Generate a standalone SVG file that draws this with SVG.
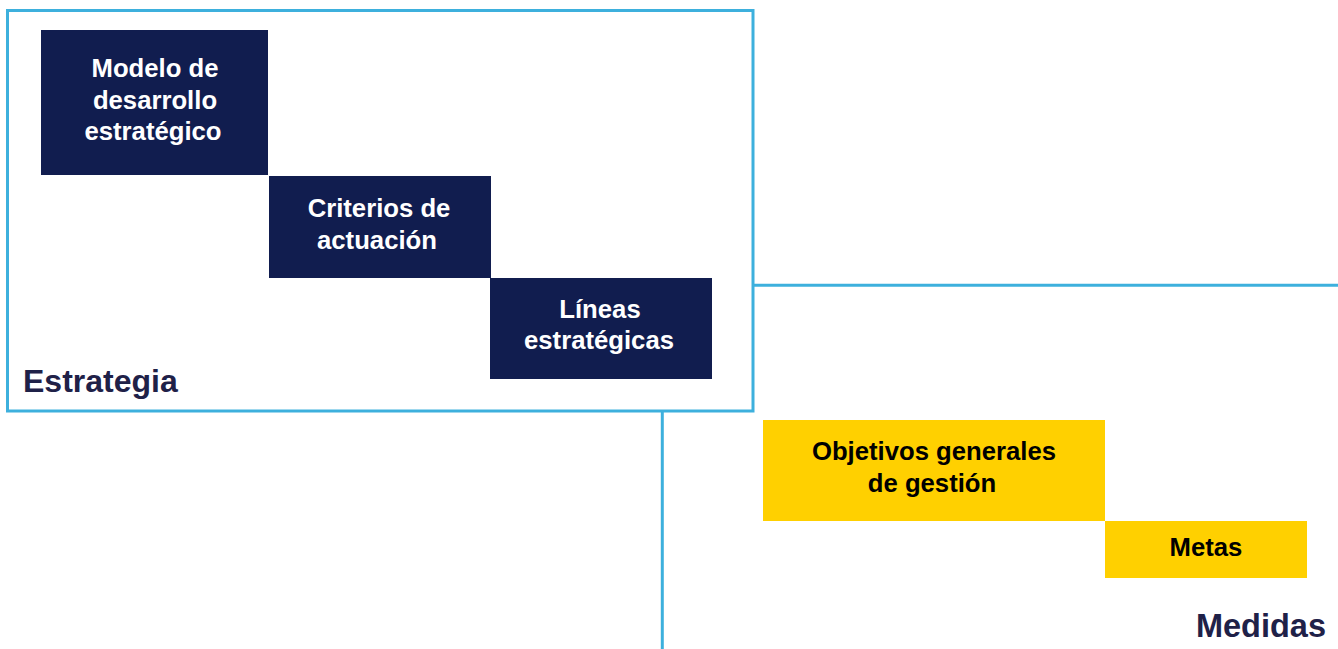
<svg xmlns="http://www.w3.org/2000/svg" width="1338" height="649" viewBox="0 0 1338 649">
<style>
.frame{fill:none;stroke:#3DB0DD;stroke-width:3}
.navy{fill:#111D4F}
.yellow{fill:#FFD000}
.tw{font-family:"Liberation Sans",Arial,sans-serif;font-weight:bold;font-size:25.7px;fill:#FFFFFF;text-anchor:middle}
.tb{font-family:"Liberation Sans",Arial,sans-serif;font-weight:bold;font-size:25.7px;fill:#000000;text-anchor:middle}
.lbl{font-family:"Liberation Sans",Arial,sans-serif;font-weight:bold;font-size:32px;fill:#1F2148}
</style>
<rect width="1338" height="649" fill="#FFFFFF"/>
<g id="connectors">
<line class="frame" x1="754" y1="285.3" x2="1338" y2="285.3"/>
<line class="frame" x1="662.3" y1="412" x2="662.3" y2="649"/>
</g>
<g id="estrategia">
<rect class="frame" x="7.5" y="10.5" width="745.5" height="400.5"/>
<text class="lbl" x="23" y="391.5">Estrategia</text>
</g>
<g id="medidas">
<text class="lbl" x="1326" y="637" text-anchor="end" style="font-size:32.5px">Medidas</text>
</g>
<g id="modelo">
<rect class="navy" x="41" y="30" width="227" height="145"/>
<text class="tw" x="155" y="77">Modelo de</text>
<text class="tw" x="155" y="109">desarrollo</text>
<text class="tw" x="153" y="140">estratégico</text>
</g>
<g id="criterios">
<rect class="navy" x="269" y="176" width="222" height="102"/>
<text class="tw" x="379" y="217">Criterios de</text>
<text class="tw" x="377" y="249">actuación</text>
</g>
<g id="lineas">
<rect class="navy" x="490" y="278" width="222" height="101"/>
<text class="tw" x="600" y="318">Líneas</text>
<text class="tw" x="599" y="349">estratégicas</text>
</g>
<g id="objetivos">
<rect class="yellow" x="763" y="420" width="342" height="101"/>
<text class="tb" x="934" y="460">Objetivos generales</text>
<text class="tb" x="932" y="492">de gestión</text>
</g>
<g id="metas">
<rect class="yellow" x="1105" y="521" width="202" height="57"/>
<text class="tb" x="1206" y="556">Metas</text>
</g>
</svg>
